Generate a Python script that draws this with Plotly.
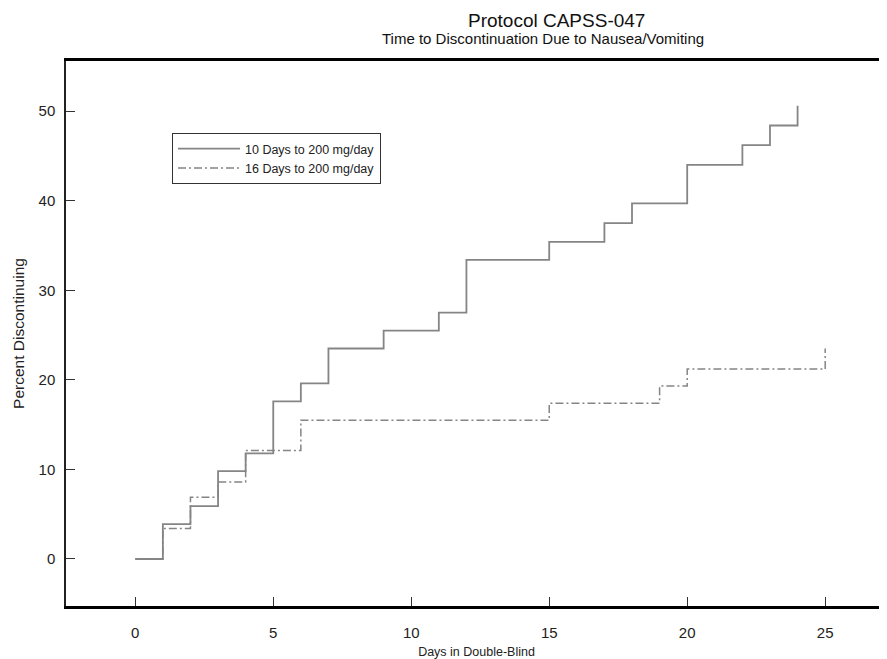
import plotly.graph_objects as go

days_a = [0, 1, 2, 3, 4, 5, 6, 7, 9, 11, 12, 15, 17, 18, 20, 22, 23, 24]
pct_a = [0, 3.9, 5.9, 9.8, 11.8, 17.6, 19.6, 23.5, 25.5, 27.5, 33.4, 35.4, 37.5, 39.7, 44.0, 46.2, 48.4, 50.6]

days_b = [0, 1, 2, 3, 4, 6, 15, 19, 20, 25]
pct_b = [0, 3.4, 6.9, 8.6, 12.1, 15.5, 17.4, 19.3, 21.2, 23.5]

name_a = "10 Days to 200 mg/day"
name_b = "16 Days to 200 mg/day"
x_ticks = [0, 5, 10, 15, 20, 25]
y_ticks = [0, 10, 20, 30, 40, 50]

FONT = "Liberation Sans, Arial, sans-serif"
GRAY = "#858585"

# page body adds an 8px offset; figure coords = reference coords - 8
W, H = 879, 651
ML, MT, MB = 58, 53, 53
PW, PH = W - ML, H - MT - MB

fig = go.Figure()
fig.add_trace(go.Scatter(x=days_a, y=pct_a, mode="lines", name=name_a,
                         line=dict(shape="hv", color=GRAY, width=1.8)))
fig.add_trace(go.Scatter(x=days_b, y=pct_b, mode="lines", name=name_b,
                         line=dict(shape="hv", color=GRAY, width=1.5, dash="8px,3px,2px,3px")))

fig.update_layout(
    width=W, height=H,
    margin=dict(l=ML, r=0, t=MT, b=MB),
    paper_bgcolor="white", plot_bgcolor="white",
    font=dict(family=FONT, color="#222"),
    showlegend=True,
    legend=dict(x=(164 - ML) / PW, y=1 - (125 - MT) / PH, xanchor="left", yanchor="top",
                bgcolor="white", bordercolor="#333", borderwidth=1,
                font=dict(size=12.5, color="#222"), itemwidth=62,
                tracegroupgap=0),
    xaxis=dict(range=[-2.51, 27.24], tickvals=x_ticks, ticks="inside", ticklen=9,
               tickcolor="#333", tickwidth=1, showgrid=False, zeroline=False,
               showline=True, linecolor="black", linewidth=3, mirror=True,
               tickfont=dict(size=15, color="#222"), ticklabelstandoff=11,
               title=dict(text="Days in Double-Blind", font=dict(size=12.5, color="#222"), standoff=10)),
    yaxis=dict(range=[-5.25, 55.6], tickvals=y_ticks, ticks="inside", ticklen=9,
               tickcolor="#333", tickwidth=1, showgrid=False, zeroline=False,
               showline=True, linecolor="#222", linewidth=1.5, mirror=False,
               tickfont=dict(size=15, color="#222"), ticklabelstandoff=6,
               title=dict(text="Percent Discontinuing", font=dict(size=15.5, color="#222"), standoff=10)),
)

fig.add_annotation(text="Protocol CAPSS-047", xref="paper", yref="paper",
                   x=(556 - 8 - ML) / PW, y=1, yshift=MT - 12, xanchor="center", yanchor="middle",
                   showarrow=False, font=dict(size=19, color="#111"))
fig.add_annotation(text="Time to Discontinuation Due to Nausea/Vomiting", xref="paper", yref="paper",
                   x=(543 - 8 - ML) / PW, y=1, yshift=MT - 30, xanchor="center", yanchor="middle",
                   showarrow=False, font=dict(size=15, color="#111"))

fig.write_html("out.html")
